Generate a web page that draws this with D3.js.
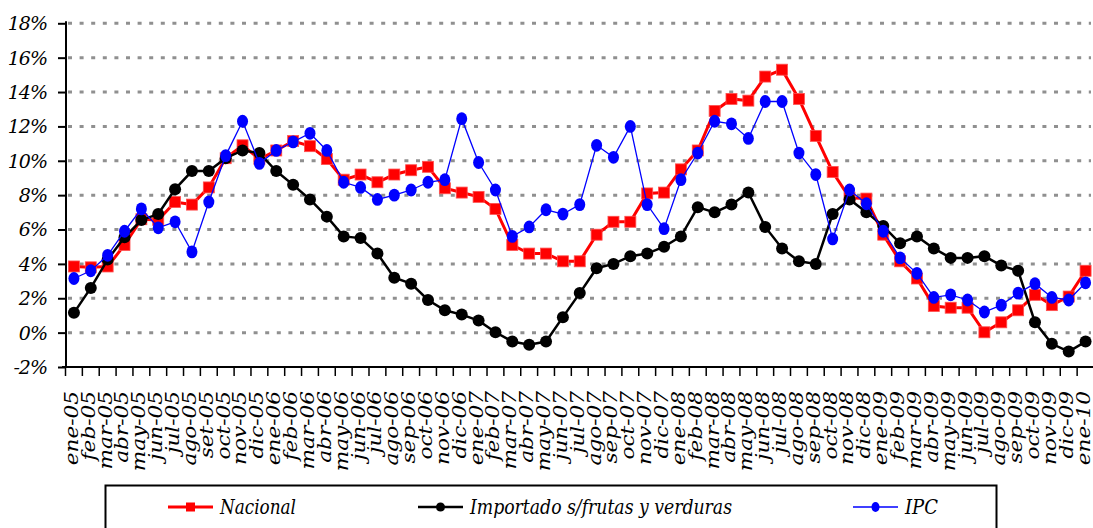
<!DOCTYPE html>
<html>
<head>
<meta charset="utf-8">
<script src="https://cdn.jsdelivr.net/npm/d3@7"></script>
<style>
  body { margin: 0; background: #fff; }
  svg { display: block; }
</style>
</head>
<body>
<div id="chart"></div>
<script>
// month labels, ene-05 .. ene-10
const months = [
  "ene-05","feb-05","mar-05","abr-05","may-05","jun-05","jul-05","ago-05","set-05","oct-05","nov-05","dic-05",
  "ene-06","feb-06","mar-06","abr-06","may-06","jun-06","jul-06","ago-06","sep-06","oct-06","nov-06","dic-06",
  "ene-07","feb-07","mar-07","abr-07","may-07","jun-07","jul-07","ago-07","sep-07","oct-07","nov-07","dic-07",
  "ene-08","feb-08","mar-08","abr-08","may-08","jun-08","jul-08","ago-08","sep-08","oct-08","nov-08","dic-08",
  "ene-09","feb-09","mar-09","abr-09","may-09","jun-09","jul-09","ago-09","sep-09","oct-09","nov-09","dic-09",
  "ene-10"
];

const nacional = [
  3.85, 3.8, 3.85, 5.1, 6.6, 6.55, 7.6, 7.45, 8.45, 10.15, 10.9, 10.1,
  10.6, 11.15, 10.85, 10.1, 8.9, 9.2, 8.75, 9.2, 9.45, 9.65, 8.4, 8.15,
  7.9, 7.2, 5.1, 4.6, 4.6, 4.15, 4.15, 5.7, 6.45, 6.45, 8.1, 8.15,
  9.5, 10.6, 12.9, 13.6, 13.5, 14.9, 15.3, 13.6, 11.45, 9.35, 7.85, 7.8,
  5.7, 4.15, 3.15, 1.55, 1.45, 1.45, 0.02, 0.6, 1.3, 2.2, 1.6, 2.1,
  3.6
];

const importado = [
  1.15, 2.6, 4.25, 5.55, 6.55, 6.9, 8.35, 9.4, 9.4, 10.15, 10.6, 10.45,
  9.4, 8.6, 7.75, 6.75, 5.6, 5.5, 4.6, 3.2, 2.85, 1.9, 1.3, 1.05,
  0.7, 0.02, -0.52, -0.7, -0.52, 0.9, 2.3, 3.75, 4.0, 4.45, 4.6, 5.0,
  5.6, 7.3, 7.0, 7.45, 8.15, 6.15, 4.9, 4.15, 4.0, 6.9, 7.75, 7.0,
  6.2, 5.2, 5.6, 4.9, 4.35, 4.35, 4.45, 3.9, 3.6, 0.6, -0.65, -1.1,
  -0.52
];

const ipc = [
  3.15, 3.6, 4.5, 5.9, 7.2, 6.1, 6.45, 4.7, 7.6, 10.3, 12.3, 9.85,
  10.6, 11.1, 11.6, 10.6, 8.75, 8.45, 7.75, 8.0, 8.3, 8.75, 8.9, 12.45,
  9.9, 8.3, 5.6, 6.15, 7.15, 6.9, 7.45, 10.9, 10.2, 12.0, 7.45, 6.05,
  8.9, 10.45, 12.3, 12.15, 11.3, 13.45, 13.45, 10.45, 9.2, 5.45, 8.3, 7.5,
  5.9, 4.35, 3.45, 2.05, 2.2, 1.9, 1.2, 1.6, 2.3, 2.85, 2.05, 1.9,
  2.9
];

const yTicks = [-2, 0, 2, 4, 6, 8, 10, 12, 14, 16, 18];

const width = 1093, height = 528;
// serif italic like the original; DejaVu Serif first since it renders reliably here
const serif = "'DejaVu Serif', 'Liberation Serif', serif";

const svg = d3.select("#chart")
  .append("svg")
    .attr("width", width)
    .attr("height", height);

const x = d3.scaleBand()
  .domain(months)
  .range([65.5, 1094]);

const y = d3.scaleLinear()
  .domain([-2, 18])
  .range([367, 23.3]);

const cx = d => x(d) + x.bandwidth() / 2;

// dashed gridlines
svg.append("g")
  .selectAll("line")
  .data(yTicks.filter(t => t > -2))
  .join("line")
    .attr("x1", 68)
    .attr("x2", 1091)
    .attr("y1", d => y(d))
    .attr("y2", d => y(d))
    .attr("stroke", "#909090")
    .attr("stroke-width", 3)
    .attr("stroke-dasharray", "4,7.6");

// y axis
const yAxis = svg.append("g")
  .attr("transform", "translate(66,0)")
  .call(d3.axisLeft(y).tickValues(yTicks).tickSize(8).tickFormat(d => d + "%"));
yAxis.attr("font-family", serif).attr("font-size", null);
yAxis.select(".domain").attr("stroke", "#000").attr("stroke-width", 2)
  .attr("d", "M0," + (y(18) - 2) + "V" + y(-2));
yAxis.selectAll(".tick line").attr("stroke", "#000").attr("stroke-width", 2);
yAxis.selectAll(".tick text")
  .attr("x", -19)
  .attr("dy", "0.34em")
  .attr("fill", "#000")
  .attr("font-style", "italic")
  .attr("font-size", 19)
  .attr("letter-spacing", -1);

// x axis
const xAxis = svg.append("g")
  .attr("transform", `translate(0,${y(-2)})`);
xAxis.append("line")
  .attr("x1", 62).attr("x2", 1093)
  .attr("stroke", "#000").attr("stroke-width", 2);
xAxis.selectAll("line.tk")
  .data(months)
  .join("line")
    .attr("class", "tk")
    .attr("x1", d => x(d)).attr("x2", d => x(d))
    .attr("y1", 0).attr("y2", 9)
    .attr("stroke", "#000").attr("stroke-width", 1.5);

svg.append("g")
  .attr("font-family", serif)
  .attr("font-style", "italic")
  .attr("font-size", 18)
  .selectAll("text")
  .data(months)
  .join("text")
    .attr("transform", d => `translate(${cx(d)},391) rotate(-90) scale(1.2,1)`)
    .attr("text-anchor", "end")
    .attr("dy", "0.22em")
    .text(d => d);

// series
const line = d3.line()
  .x((d, i) => cx(months[i]))
  .y(d => y(d));

// Nacional
svg.append("path")
  .datum(nacional)
  .attr("d", line)
  .attr("fill", "none")
  .attr("stroke", "#ff0000")
  .attr("stroke-width", 3);
svg.append("g")
  .selectAll("rect")
  .data(nacional)
  .join("rect")
    .attr("x", (d, i) => cx(months[i]) - 5.5)
    .attr("y", d => y(d) - 5.5)
    .attr("width", 11)
    .attr("height", 11)
    .attr("fill", "#ff0000")
    .attr("stroke", "#ff5050")
    .attr("stroke-width", 0.8);

// Importado
svg.append("path")
  .datum(importado)
  .attr("d", line)
  .attr("fill", "none")
  .attr("stroke", "#000")
  .attr("stroke-width", 2.5);
svg.append("g")
  .selectAll("circle")
  .data(importado)
  .join("circle")
    .attr("cx", (d, i) => cx(months[i]))
    .attr("cy", d => y(d))
    .attr("r", 6)
    .attr("fill", "#000");

// IPC
svg.append("path")
  .datum(ipc)
  .attr("d", line)
  .attr("fill", "none")
  .attr("stroke", "#0000ff")
  .attr("stroke-width", 1.3);
svg.append("g")
  .selectAll("ellipse")
  .data(ipc)
  .join("ellipse")
    .attr("cx", (d, i) => cx(months[i]))
    .attr("cy", d => y(d))
    .attr("rx", 5.5)
    .attr("ry", 6.4)
    .attr("fill", "#0000ff");

// legend
const legend = svg.append("g")
  .attr("font-family", serif)
  .attr("font-style", "italic");
legend.append("rect")
  .attr("x", 105.5).attr("y", 485.5)
  .attr("width", 891).attr("height", 70)
  .attr("fill", "none")
  .attr("stroke", "#000")
  .attr("stroke-width", 2);

const ly = 507;
const items = [
  { name: "Nacional", color: "#ff0000", x0: 168, w: 3, shape: "rect", tw: 76 },
  { name: "Importado s/frutas y verduras", color: "#000", x0: 418, w: 2.5, shape: "circle", tw: 262 },
  { name: "IPC", color: "#0000ff", x0: 853, w: 1.3, shape: "ellipse", tw: 33 }
];
items.forEach(it => {
  const g = legend.append("g");
  g.append("line")
    .attr("x1", it.x0).attr("x2", it.x0 + 45)
    .attr("y1", ly).attr("y2", ly)
    .attr("stroke", it.color).attr("stroke-width", it.w);
  const mx = it.x0 + 22.5;
  if (it.shape === "rect") {
    g.append("rect").attr("x", mx - 4.5).attr("y", ly - 4.5)
      .attr("width", 9).attr("height", 9).attr("fill", it.color);
  } else if (it.shape === "circle") {
    g.append("circle").attr("cx", mx).attr("cy", ly).attr("r", 4.5).attr("fill", it.color);
  } else {
    g.append("ellipse").attr("cx", mx).attr("cy", ly).attr("rx", 4).attr("ry", 5).attr("fill", it.color);
  }
  g.append("text")
    .attr("x", it.x0 + 52)
    .attr("y", ly)
    .attr("dy", "0.35em")
    .attr("font-size", 20)
    .attr("textLength", it.tw)
    .attr("lengthAdjust", "spacingAndGlyphs")
    .text(it.name);
});
</script>
</body>
</html>
